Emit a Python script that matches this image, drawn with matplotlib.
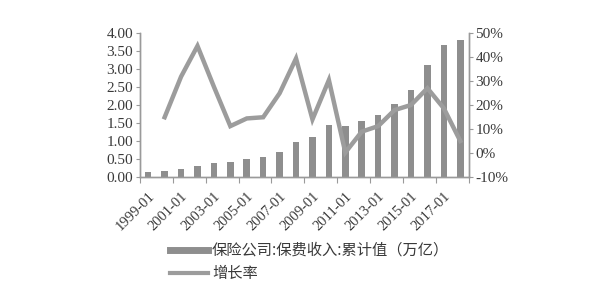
import matplotlib.pyplot as plt
from matplotlib.lines import Line2D
import numpy as np

years = list(range(1999, 2019))
premium = [0.14, 0.16, 0.21, 0.30, 0.39, 0.43, 0.49, 0.56, 0.70, 0.98,
           1.11, 1.45, 1.43, 1.55, 1.72, 2.02, 2.43, 3.10, 3.66, 3.80]
growth = [None, 14.9, 31.8, 44.6, 27.6, 11.2, 14.4, 14.9, 24.9, 39.4,
          14.0, 30.4, 0.2, 8.9, 11.2, 17.9, 20.0, 27.0, 18.6, 5.0]
tick_labels = ["%d-01" % y for y in years[::2]]

bar_color = "#8e8e8e"
line_color = "#9c9c9c"
txt_color = "#3a3a3a"
spine_color = "#9a9a9a"

fig = plt.figure(figsize=(6.02, 2.94), dpi=100)
ax = fig.add_axes([140 / 602, 1 - 177 / 294, 328.5 / 602, 144 / 294])
x = np.arange(len(years))
ax.bar(x, premium, width=0.4, color=bar_color, zorder=2)
ax.set_xlim(-0.5, len(years) - 0.5)
ax.set_ylim(0, 4)
ax.set_yticks(np.arange(0, 4.01, 0.5))
ax.set_yticklabels(["%.2f" % v for v in np.arange(0, 4.01, 0.5)])

# tick marks at boundaries, labels on every other year
ax.set_xticks(np.arange(-0.5, len(years), 2))
ax.set_xticklabels([])
ax.set_xticks(x[::2], minor=True)
ax.set_xticklabels(tick_labels, minor=True, rotation=45, ha="right",
                   rotation_mode="anchor", family="Liberation Serif",
                   fontsize=10.5, color=txt_color)
ax.tick_params(axis="x", which="minor", length=0, pad=9)
ax.tick_params(axis="x", which="major", length=4, color=spine_color)
ax.tick_params(axis="y", length=3, color=spine_color, labelcolor=txt_color,
               labelsize=11, pad=2)
for t in ax.get_yticklabels():
    t.set_family("Liberation Serif")

ax2 = ax.twinx()
gx = [i for i, g in zip(x, growth) if g is not None]
gy = [g for g in growth if g is not None]
ax2.plot(gx, gy, color=line_color, lw=3.2, solid_joinstyle="miter", zorder=3)
ax2.set_ylim(-10, 50)
ax2.set_yticks(range(-10, 51, 10))
ax2.set_yticklabels(["%d%%" % v for v in range(-10, 51, 10)])
ax2.tick_params(axis="y", length=3, color=spine_color, labelcolor=txt_color,
                labelsize=11, pad=2)
for t in ax2.get_yticklabels():
    t.set_family("Liberation Serif")

for a in (ax, ax2):
    a.spines["top"].set_visible(False)
    for s in ("left", "right", "bottom"):
        a.spines[s].set_color(spine_color)
        a.spines[s].set_linewidth(1)

handles = [Line2D([], [], color=bar_color, lw=5),
           Line2D([], [], color=line_color, lw=3)]
labels = ["保险公司:保费收入:累计值（万亿）", "增长率"]
fig.legend(handles, labels, loc="upper left",
           bbox_to_anchor=(170 / 602, 1 - 242 / 294), frameon=False,
           borderpad=0, borderaxespad=0, handlelength=2.5, handletextpad=0.25,
           labelspacing=0.4,
           prop={"family": ["Noto Sans CJK SC", "DejaVu Sans"], "size": 11},
           labelcolor=txt_color)

fig.savefig("out.png", dpi=100)
